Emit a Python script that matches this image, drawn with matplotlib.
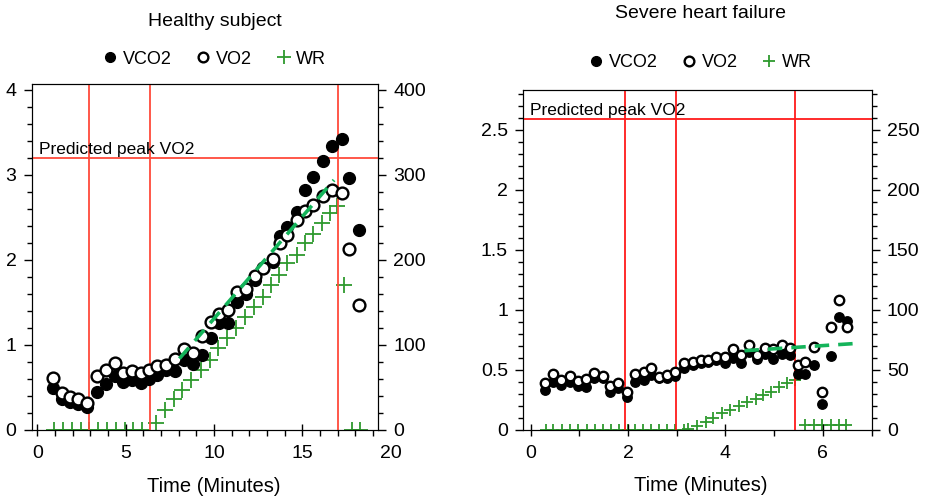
import matplotlib
matplotlib.use("Agg")
import matplotlib.pyplot as plt
from matplotlib.ticker import MultipleLocator, FormatStrFormatter

plt.rcParams['font.family'] = ['Liberation Sans', 'DejaVu Sans']

# ---- healthy subject ----
t_h = [0.87, 1.37, 1.85, 2.32, 2.83, 3.36, 3.89, 4.40, 4.87, 5.34, 5.85, 6.34,
       6.79, 7.28, 7.79, 8.30, 8.83, 9.30, 9.81, 10.30, 10.81, 11.32, 11.81, 12.32,
       12.79, 13.32, 13.73, 14.11, 14.68, 15.15, 15.62, 16.15, 16.66, 17.22, 17.66, 18.22]
vo2_h = [0.615, 0.43, 0.39, 0.36, 0.32, 0.63, 0.70, 0.79, 0.67, 0.69, 0.67, 0.71,
         0.75, 0.77, 0.84, 0.95, 0.90, 1.11, 1.27, 1.37, 1.41, 1.62, 1.66, 1.81,
         1.91, 2.01, 2.20, 2.29, 2.47, 2.58, 2.65, 2.75, 2.82, 2.79, 2.13, 1.47]
vco2_h = [0.49, 0.37, 0.33, 0.30, 0.27, 0.45, 0.54, 0.63, 0.57, 0.59, 0.55, 0.60,
          0.65, 0.70, 0.69, 0.82, 0.78, 0.88, 1.08, 1.26, 1.26, 1.51, 1.60, 1.76,
          1.90, 1.98, 2.28, 2.39, 2.57, 2.82, 2.98, 3.16, 3.34, 3.42, 2.96, 2.35]
t_wr_h = [0.95, 1.45, 1.95, 2.45, 2.93, 3.43, 3.94, 4.44, 4.94, 5.43, 5.91,
          6.72, 7.23, 7.72, 8.20, 8.70, 9.24, 9.77, 10.24, 10.75, 11.24, 11.75,
          12.26, 12.75, 13.20, 13.70, 14.15, 14.68, 15.15, 15.62, 16.10, 16.56, 16.94,
          17.36, 17.79, 18.26]
wr_h = [0, 0, 0, 0, 0, 0, 0, 0, 0, 0, 0,
        8, 24, 36, 47, 59, 71, 82, 96, 108, 120, 133,
        145, 157, 171, 182, 196, 206, 220, 231, 243, 255, 263,
        171, 0, 0]
fit_t_h = [8.04, 16.79]
fit_v_h = [0.84, 2.94]
phases_h = [2.9, 6.4, 17.0]
peak_h = 3.2

# ---- severe heart failure ----
t_s = [0.29, 0.45, 0.62, 0.80, 0.97, 1.14, 1.31, 1.48, 1.62, 1.80, 1.97, 2.15,
       2.32, 2.47, 2.63, 2.80, 2.97, 3.15, 3.33, 3.50, 3.64, 3.81, 3.98, 4.15,
       4.31, 4.48, 4.64, 4.81, 4.98, 5.15, 5.32, 5.49, 5.64, 5.81, 5.99, 6.16,
       6.33, 6.49]
vo2_s = [0.394, 0.464, 0.417, 0.453, 0.408, 0.422, 0.472, 0.45, 0.367, 0.394, 0.32, 0.47,
         0.48, 0.52, 0.44, 0.456, 0.48, 0.556, 0.57, 0.583, 0.583, 0.61, 0.61, 0.672,
         0.625, 0.708, 0.625, 0.68, 0.67, 0.708, 0.68, 0.54, 0.57, 0.694, 0.32, 0.856,
         1.078, 0.856]
vco2_s = [0.333, 0.40, 0.375, 0.40, 0.367, 0.356, 0.431, 0.43, 0.32, 0.347, 0.278, 0.40,
          0.417, 0.458, 0.43, 0.43, 0.45, 0.52, 0.54, 0.556, 0.57, 0.583, 0.556, 0.597,
          0.556, 0.653, 0.59, 0.636, 0.59, 0.636, 0.625, 0.47, 0.47, 0.54, 0.217, 0.617,
          0.94, 0.91]
t_wr_s = [0.32, 0.47, 0.64, 0.81, 0.98, 1.15, 1.32, 1.49, 1.66, 1.82, 1.99, 2.15,
          2.31, 2.47, 2.63, 2.80, 2.97, 3.14,
          3.24, 3.41, 3.59, 3.74, 3.93, 4.10, 4.27, 4.44, 4.62, 4.77, 4.94, 5.10,
          5.27, 5.42, 5.52,
          5.64, 5.81, 5.99, 6.16, 6.33, 6.47]
wr_s = [0, 0, 0, 0, 0, 0, 0, 0, 0, 0, 0, 0,
        0, 0, 0, 0, 0, 0,
        1, 3, 7, 10, 14, 17, 20, 23, 26, 29, 32, 36,
        39, 42, 46,
        4, 4, 4, 4, 4, 4]
fit_t_s = [4.39, 6.67]
fit_v_s = [0.66, 0.72]
phases_s = [1.94, 2.99, 5.42]
peak_s = 2.59

GREEN = '#2e9a2e'
DASH = '#14b45a'


def panel(rect, t, vo2, vco2, t_wr, wr, fit_t, fit_v, phases, peak, red,
          xlim, ylim, xmaj, ymaj, ymin, wrmaj, wrmin, ms, pms, title, title_y, leg_y, leg_x):
    ax = fig.add_axes(rect)
    ax2 = ax.twinx()
    ax.set_zorder(ax2.get_zorder() + 1)
    ax.patch.set_visible(False)

    for p in phases:
        ax.axvline(p, color=red, lw=1.3, zorder=1)
    ax.axhline(peak, color=red, lw=1.3, zorder=1)
    ax.text(xlim[0] + (xlim[1] - xlim[0]) * 0.02, peak + 0.01, 'Predicted peak VO2',
            fontsize=12.5, va='bottom', ha='left', zorder=2)

    ax.plot(t, vco2, 'o', color='black', ms=ms, mec='black', zorder=3, label='VCO2')
    ax.plot(t, vo2, 'o', mfc='white', mec='black', mew=1.7, ms=ms, zorder=4, label='VO2')
    ax.plot(fit_t, fit_v, '--', color=DASH, lw=2.6, dashes=(4, 2.5), zorder=5)
    ax2.plot(t_wr, wr, '+', color=GREEN, ms=pms, mew=1.3, label='WR')

    ax.set_xlim(*xlim)
    ax.set_ylim(*ylim)
    ax2.set_ylim(ylim[0] * 100, ylim[1] * 100)
    ax.xaxis.set_major_locator(MultipleLocator(xmaj))
    ax.xaxis.set_minor_locator(MultipleLocator(1))
    ax.yaxis.set_major_locator(MultipleLocator(ymaj))
    ax.yaxis.set_minor_locator(MultipleLocator(ymin))
    ax.yaxis.set_major_formatter(FormatStrFormatter('%g'))
    ax2.yaxis.set_major_locator(MultipleLocator(wrmaj))
    ax2.yaxis.set_minor_locator(MultipleLocator(wrmin))

    ax.tick_params(axis='x', which='major', direction='inout', length=9, width=1, labelsize=14, pad=6)
    ax.tick_params(axis='x', which='minor', direction='out', length=4, width=1)
    ax.tick_params(axis='y', which='major', direction='out', length=6, width=1, labelsize=14, pad=5)
    ax.tick_params(axis='y', which='minor', direction='out', length=3.5, width=1)
    ax2.tick_params(axis='y', which='major', direction='out', length=6, width=1, labelsize=14, pad=5)
    ax2.tick_params(axis='y', which='minor', direction='out', length=3.5, width=1)
    ax.set_xlabel('Time (Minutes)', fontsize=14.5, labelpad=4)

    ax.text(leg_x, title_y, title, transform=ax.transAxes, ha='center', va='center', fontsize=14)
    h1, l1 = ax.get_legend_handles_labels()
    h2, l2 = ax2.get_legend_handles_labels()
    ax.legend(h1 + h2, l1 + l2, loc='center', bbox_to_anchor=(leg_x, leg_y),
              ncol=3, frameon=False, fontsize=13, handlelength=0.7,
              handletextpad=0.35, columnspacing=1.4, markerscale=7.0 / ms)
    return ax, ax2


fig = plt.figure(figsize=(9.26, 4.99), dpi=100)

axL, axL2 = panel([0.0342, 0.1383, 0.374, 0.6934], t_h, vo2_h, vco2_h, t_wr_h, wr_h,
                  fit_t_h, fit_v_h, phases_h, peak_h, '#ff4a3a',
                  (-0.32, 19.28), (0, 4.07), 5, 1, 0.2, 100, 20, 8.5, 12,
                  'Healthy subject', 1.18, 1.072, 0.53)
axL.xaxis.set_label_coords(0.525, -0.135)
axL.annotate('20', xy=(20, 0), xycoords=('data', 'axes fraction'), xytext=(0, -10.5),
             textcoords='offset points', ha='center', va='top', fontsize=14,
             annotation_clip=False)

axR, axR2 = panel([0.5651, 0.1383, 0.3762, 0.6814], t_s, vo2_s, vco2_s, t_wr_s, wr_s,
                  fit_t_s, fit_v_s, phases_s, peak_s, '#ff1a1a',
                  (-0.15, 7.0), (0, 2.83), 2, 0.5, 0.1, 50, 10, 6.8, 8,
                  'Severe heart failure', 1.225, 1.08, 0.51)
axR.xaxis.set_label_coords(0.51, -0.135)

fig.savefig('out.png', dpi=100)
